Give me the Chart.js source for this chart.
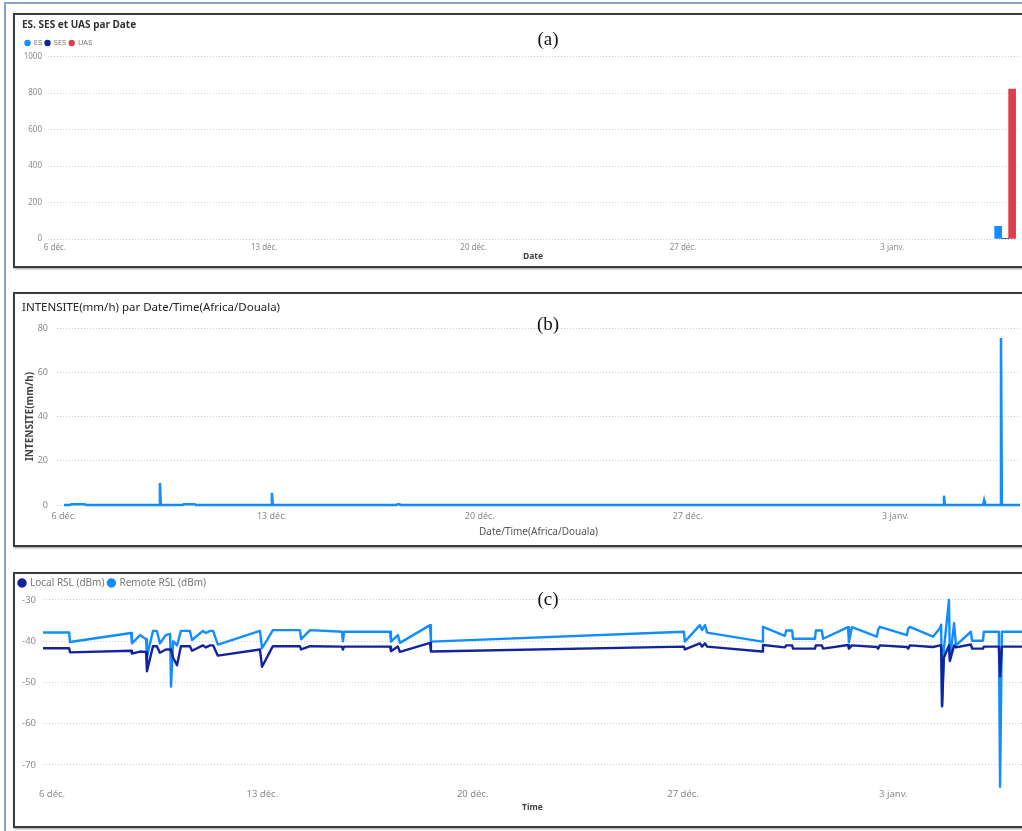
<!DOCTYPE html>
<html lang="fr">
<head>
<meta charset="UTF-8">
<title>ES, SES, UAS - Intensité - RSL</title>
<script src="https://cdn.jsdelivr.net/npm/chart.js@4"></script>
<style>
    html, body { margin: 0; padding: 0; background: #fff; overflow: hidden; }
    body { width: 1022px; height: 831px; position: relative; }
    .frame {
        position: absolute; left: 4px; top: 2px; width: 1100px; height: 900px;
        border-left: 2px solid #8aa3cc; border-top: 2px solid #8aa3cc;
    }
    .panel {
        position: absolute; left: 13px; width: 1020px;
        border: 2px solid #3c3c3c; box-shadow: 1px 1px 2px #999; background: #fff;
    }
    .panel canvas { position: absolute; left: 0; top: 0; }
    .tag {
        position: absolute; left: 528px; width: 40px; text-align: center;
        font-family: "Liberation Serif", serif; font-size: 19px; color: #111;
    }
</style>
</head>
<body>
<div class="frame"></div>

<div class="panel" style="top:13px;height:251px;"><canvas id="chartA" width="1007" height="251"></canvas></div>
<div class="panel" style="top:292px;height:251px;"><canvas id="chartB" width="1007" height="251"></canvas></div>
<div class="panel" style="top:572px;height:252px;"><canvas id="chartC" width="1007" height="252"></canvas></div>

<div class="tag" style="top:28px;">(a)</div>
<div class="tag" style="top:313px;">(b)</div>
<div class="tag" style="top:588px;">(c)</div>

<script>
// days counted from 6 déc.
var weekDays = [0, 7, 14, 21, 28];
var weekLabels = ['6 déc.', '13 déc.', '20 déc.', '27 déc.', '3 janv.'];

// (a) ES / SES / UAS
var errorDays = [31.77];
var esValues = [70];
var sesValues = [4];
var uasValues = [822];
var errorTicks = [0, 200, 400, 600, 800, 1000];

// (b) rain intensity
var rainDays = [0, 0.20, 0.25, 0.70, 0.75, 3.20, 3.23, 3.26, 4.00, 4.03, 4.40, 4.43, 6.97, 7.00, 7.03,
    11.20, 11.23, 11.30, 11.33, 29.60, 29.63, 29.66, 30.95, 30.98, 31.01, 31.52, 31.55, 31.58, 32.19];
var rainValues = [0, 0, 0.3, 0.3, 0, 0, 10, 0, 0, 0.3, 0.3, 0, 0, 5.5, 0,
    0, 0.3, 0.3, 0, 0, 4.2, 0, 0, 2, 0, 0, 75.5, 0, 0];
var rainTicks = [0, 20, 40, 60, 80];

// (c) RSL
var rslDays = [-0.30, 0.57, 0.60, 2.63, 2.66, 2.93, 3.13, 3.16, 3.36, 3.49, 3.59, 3.79, 3.93, 3.96, 4.03,
    4.16, 4.29, 4.59, 4.66, 5.02, 5.12, 5.26, 5.36, 5.52, 6.92, 6.99, 7.35, 8.25, 8.29, 8.59,
    9.65, 9.68, 9.72, 11.25, 11.28, 11.51, 11.58, 12.58, 12.61, 21.03, 21.06, 21.56, 21.63, 21.73, 21.80,
    23.63, 23.66, 24.39, 24.43, 24.63, 24.66, 25.39, 25.42, 25.62, 25.66, 26.49, 26.52, 26.62, 27.45,
    27.49, 27.55, 28.45, 28.49, 28.55, 29.32, 29.55, 29.59, 29.62, 29.68, 29.85, 29.88, 30.02, 30.08,
    30.58, 30.62, 30.98, 31.01, 31.51, 31.55, 31.61, 32.28];
var remoteRsl = [-37.9, -37.9, -40.2, -38.0, -40.5, -38.5, -39.5, -43.7, -37.5, -37.5, -40.5, -38.5, -38.2, -51.0, -40.0,
    -41.0, -37.5, -37.5, -39.7, -37.5, -38.0, -37.5, -37.5, -40.8, -37.5, -41.7, -37.3, -37.3, -39.5, -37.3,
    -37.7, -40.0, -37.7, -37.7, -40.1, -38.5, -40.4, -36.1, -40.1, -37.7, -40.1, -36.1, -37.3, -36.1, -37.9,
    -40.1, -36.5, -38.7, -37.4, -37.4, -39.4, -39.4, -37.4, -37.4, -39.4, -36.6, -40.2, -36.6, -38.9,
    -37.2, -36.5, -38.5, -37.0, -36.5, -38.9, -36.8, -36.0, -55.5, -42.0, -30.0, -44.6, -35.6, -41.0,
    -37.7, -39.9, -39.9, -37.7, -37.7, -75.3, -37.7, -37.7];
var localRsl = [-41.7, -41.7, -42.7, -42.3, -43.0, -42.5, -42.6, -47.3, -41.2, -41.2, -42.8, -42.0, -42.0, -42.0, -44.0,
    -45.8, -41.2, -41.2, -42.3, -41.0, -41.5, -41.0, -41.0, -43.5, -42.0, -46.2, -41.2, -41.2, -42.0, -41.2,
    -41.3, -42.0, -41.3, -41.3, -42.4, -41.3, -42.6, -40.4, -42.5, -41.3, -42.0, -40.5, -41.3, -40.5, -41.3,
    -42.5, -40.9, -41.5, -41.0, -41.0, -41.8, -41.8, -41.0, -41.0, -41.8, -40.9, -41.8, -41.0, -41.4,
    -41.8, -41.0, -41.4, -41.8, -41.0, -41.4, -41.0, -41.0, -55.8, -44.0, -41.0, -44.8, -41.0, -41.5,
    -40.8, -41.8, -41.8, -41.3, -41.3, -48.5, -41.3, -41.3];
var rslTicks = [-70, -60, -50, -40, -30];

var FONT = '"Noto Sans", "Open Sans", sans-serif';
Chart.defaults.font.family = FONT;
Chart.defaults.animation = false;
Chart.defaults.events = [];
Chart.defaults.plugins.tooltip.enabled = false;

function toPoints(xs, ys) {
    return xs.map(function (x, i) { return { x: x, y: ys[i] }; });
}

function weekAxis(min, max, height, tickFont, tickPad, title) {
    return {
        type: 'linear',
        min: min,
        max: max,
        offset: false,
        afterBuildTicks: function (scale) {
            scale.ticks = weekDays.map(function (v) { return { value: v }; });
        },
        afterFit: function (scale) { scale.height = height; },
        ticks: {
            autoSkip: false,
            maxRotation: 0,
            padding: tickPad,
            color: '#8a8a8a',
            font: tickFont,
            callback: function (value) {
                var i = weekDays.indexOf(value);
                return i >= 0 ? weekLabels[i] : '';
            }
        },
        grid: { display: false, drawTicks: false },
        border: { display: false },
        title: title
    };
}

function valueAxis(min, max, tickList, width, tickFont, tickPad, title) {
    return {
        min: min,
        max: max,
        afterBuildTicks: function (scale) {
            scale.ticks = tickList.map(function (v) { return { value: v }; });
        },
        afterFit: function (scale) { scale.width = width; },
        ticks: {
            padding: tickPad,
            color: '#8a8a8a',
            font: tickFont,
            callback: function (value) { return String(value); }
        },
        grid: { color: '#cfcfcf', lineWidth: 1, drawTicks: false },
        border: { display: false, dash: [1, 2] },
        title: title || { display: false }
    };
}

// (a)
new Chart(document.getElementById('chartA').getContext('2d'), {
    type: 'bar',
    data: {
        datasets: [
            { label: 'ES', data: toPoints(errorDays, esValues), backgroundColor: '#118DFF' },
            { label: 'SES', data: toPoints(errorDays, sesValues), backgroundColor: '#12239E' },
            { label: 'UAS', data: toPoints(errorDays, uasValues), backgroundColor: '#DD404C' }
        ]
    },
    options: {
        responsive: false,
        barThickness: 7,
        layout: { padding: { left: 7, top: 0, right: 4, bottom: 0 } },
        plugins: {
            title: {
                display: true, text: 'ES. SES et UAS par Date', align: 'start', color: '#333',
                font: { size: 10, weight: 'bold' }, padding: { top: 4, bottom: 5.25 }
            },
            legend: {
                position: 'top', align: 'start',
                labels: {
                    usePointStyle: true, pointStyle: 'circle', boxWidth: 5, boxHeight: 4.5,
                    padding: 3, color: '#777', font: { size: 7.5 }
                }
            }
        },
        scales: {
            x: weekAxis(-0.23, 32.2, 27, { size: 8 }, 4,
                { display: true, text: 'Date', color: '#444', font: { size: 8.5, weight: 'bold' }, padding: { top: 0, bottom: 4 } }),
            y: valueAxis(0, 1000, errorTicks, 26, { size: 8 }, 6)
        }
    }
});

// (b)
new Chart(document.getElementById('chartB').getContext('2d'), {
    type: 'line',
    data: {
        datasets: [{
            label: 'INTENSITE(mm/h)',
            data: toPoints(rainDays, rainValues),
            borderColor: '#118DFF',
            borderWidth: 2.5,
            pointRadius: 0,
            tension: 0,
            clip: false
        }]
    },
    options: {
        responsive: false,
        layout: { padding: { left: 7, top: 0, right: 2, bottom: 0 } },
        plugins: {
            title: {
                display: true, text: 'INTENSITE(mm/h) par Date/Time(Africa/Douala)', align: 'start',
                color: '#252423', font: { size: 11.5, weight: 'normal' }, padding: { top: 7, bottom: 13.2 }
            },
            legend: { display: false }
        },
        scales: {
            x: weekAxis(-0.236, 32.19, 40, { size: 9 }, 5.6,
                { display: true, text: 'Date/Time(Africa/Douala)', color: '#555', font: { size: 10 }, padding: { top: 0, bottom: 7 } }),
            y: valueAxis(0, 80, rainTicks, 35, { size: 9 }, 9,
                { display: true, text: 'INTENSITE(mm/h)', color: '#444', font: { size: 10, weight: 'bold' }, padding: { top: 2, bottom: 0 } })
        }
    }
});

// (c)
new Chart(document.getElementById('chartC').getContext('2d'), {
    type: 'line',
    data: {
        datasets: [
            {
                label: 'Local RSL (dBm)', data: toPoints(rslDays, localRsl), borderColor: '#12239E',
                backgroundColor: '#12239E', borderWidth: 2.4, pointRadius: 0, tension: 0,
                borderJoinStyle: 'round', clip: false
            },
            {
                label: 'Remote RSL (dBm)', data: toPoints(rslDays, remoteRsl), borderColor: '#118DFF',
                backgroundColor: '#118DFF', borderWidth: 2.4, pointRadius: 0, tension: 0,
                borderJoinStyle: 'round', clip: false
            }
        ]
    },
    options: {
        responsive: false,
        layout: { padding: 0 },
        plugins: {
            legend: {
                position: 'top', align: 'start',
                labels: {
                    usePointStyle: true, pointStyle: 'circle', boxWidth: 6, boxHeight: 5,
                    padding: 4, color: '#777', font: { size: 10 }
                }
            }
        },
        scales: {
            x: weekAxis(-0.3, 32.28, 38, { size: 9.5 }, 1,
                { display: true, text: 'Time', color: '#444', font: { size: 8.5, weight: 'bold' }, padding: { top: 0, bottom: 12.9 } }),
            y: valueAxis(-75.58, -29.52, rslTicks, 28, { size: 9.5 }, 7)
        }
    }
});
</script>
</body>
</html>
